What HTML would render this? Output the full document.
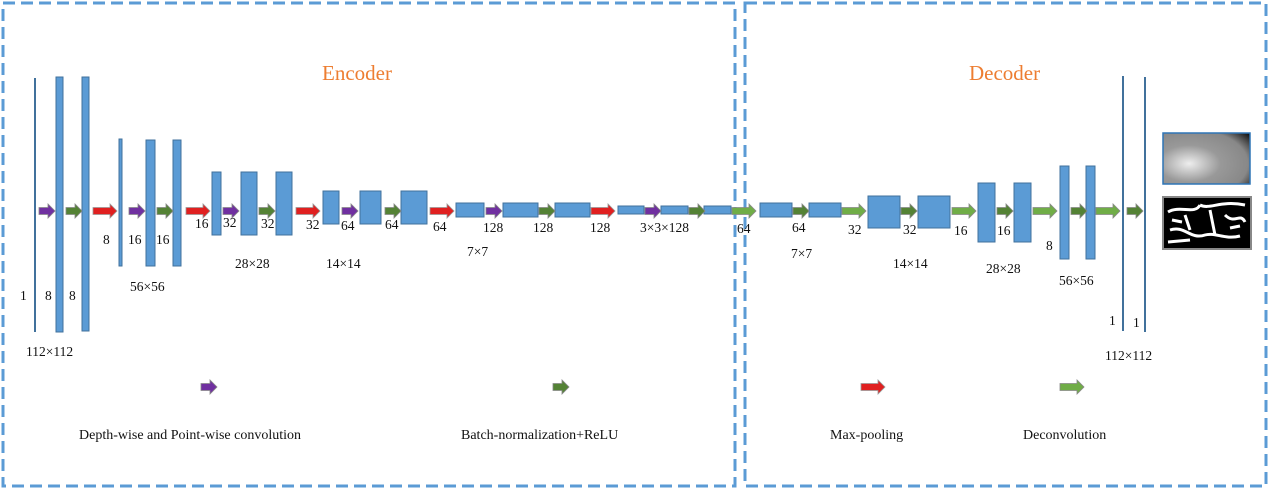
<!DOCTYPE html>
<html><head><meta charset="utf-8"><style>body{margin:0;background:#fff}svg{display:block}text{font-family:"Liberation Serif",serif;font-size:13.5px;fill:#111}</style></head><body>
<svg width="1270" height="489" viewBox="0 0 1270 489">
<defs>
<g id="ar"><path d="M0,-3.5 H9 V-7 L16,0 L9,7 V3.5 H0 Z" stroke-width="0.8"/></g>
<g id="al"><path d="M0,-3.5 H17 V-7 L24,0 L17,7 V3.5 H0 Z" stroke-width="0.8"/></g>
<radialGradient id="gb" cx="0.3" cy="0.6" r="0.9"><stop offset="0" stop-color="#eee"/><stop offset="0.4" stop-color="#999"/><stop offset="0.75" stop-color="#888"/><stop offset="1" stop-color="#111"/></radialGradient>
</defs>
<g fill="none" stroke="#5b9bd5" stroke-width="3" stroke-dasharray="12,6">
<rect x="3" y="3" width="732" height="483"/>
<rect x="745" y="3" width="521" height="483"/>
</g>
<text x="322" y="80" style="font-size:21px;fill:#ed7d31">Encoder</text>
<text x="969" y="80" style="font-size:21px;fill:#ed7d31">Decoder</text>
<g fill="#5b9bd5" stroke="#41719c" stroke-width="1">
<rect x="56" y="77" width="7" height="255"/><rect x="82" y="77" width="7" height="254"/>
<rect x="119" y="139" width="3" height="127"/>
<rect x="146" y="140" width="9" height="126"/><rect x="173" y="140" width="8" height="126"/>
<rect x="212" y="172" width="9" height="63"/><rect x="241" y="172" width="16" height="63"/><rect x="276" y="172" width="16" height="63"/>
<rect x="323" y="191" width="16" height="33"/><rect x="360" y="191" width="21" height="33"/><rect x="401" y="191" width="26" height="33"/>
<rect x="456" y="203" width="28" height="14"/><rect x="503" y="203" width="35" height="14"/><rect x="555" y="203" width="35" height="14"/>
<rect x="618" y="206" width="26" height="8"/><rect x="661" y="206" width="27" height="8"/><rect x="704" y="206" width="27" height="8"/>
<rect x="760" y="203" width="32" height="14"/><rect x="809" y="203" width="32" height="14"/>
<rect x="868" y="196" width="32" height="32"/><rect x="918" y="196" width="32" height="32"/>
<rect x="978" y="183" width="17" height="59"/><rect x="1014" y="183" width="17" height="59"/>
<rect x="1060" y="166" width="9" height="93"/><rect x="1086" y="166" width="9" height="93"/>
</g>
<g stroke="#41719c" stroke-width="2">
<line x1="35" y1="78" x2="35" y2="332"/><line x1="1123" y1="76" x2="1123" y2="331"/><line x1="1145" y1="77" x2="1145" y2="332"/>
</g>
<g fill="#7030a0" stroke="#888">
<use href="#ar" x="39" y="211"/><use href="#ar" x="129" y="211"/><use href="#ar" x="223" y="211"/><use href="#ar" x="342" y="211"/><use href="#ar" x="486" y="211"/><use href="#ar" x="645" y="211"/><use href="#ar" x="201" y="387"/>
</g>
<g fill="#548235" stroke="#888">
<use href="#ar" x="66" y="211"/><use href="#ar" x="157" y="211"/><use href="#ar" x="259" y="211"/><use href="#ar" x="385" y="211"/><use href="#ar" x="539" y="211"/><use href="#ar" x="689" y="211"/><use href="#ar" x="793" y="211"/><use href="#ar" x="901" y="211"/><use href="#ar" x="997" y="211"/><use href="#ar" x="1071" y="211"/><use href="#ar" x="1127" y="211"/><use href="#ar" x="553" y="387"/>
</g>
<g fill="#e02020" stroke="#999">
<use href="#al" x="93" y="211"/><use href="#al" x="186" y="211"/><use href="#al" x="296" y="211"/><use href="#al" x="430" y="211"/><use href="#al" x="591" y="211"/><use href="#al" x="861" y="387"/>
</g>
<g fill="#70ad47" stroke="#888">
<use href="#al" x="732" y="211"/><use href="#al" x="842" y="211"/><use href="#al" x="952" y="211"/><use href="#al" x="1033" y="211"/><use href="#al" x="1096" y="211"/><use href="#al" x="1060" y="387"/>
</g>
<text x="20" y="300">1</text><text x="45" y="300">8</text><text x="69" y="300">8</text>
<text x="26" y="356">112×112</text>
<text x="103" y="244">8</text><text x="128" y="244">16</text><text x="156" y="244">16</text>
<text x="130" y="291">56×56</text>
<text x="195" y="228">16</text><text x="223" y="227">32</text><text x="261" y="228">32</text>
<text x="235" y="268">28×28</text>
<text x="306" y="229">32</text><text x="341" y="230">64</text><text x="385" y="229">64</text><text x="433" y="231">64</text>
<text x="326" y="268">14×14</text>
<text x="483" y="232">128</text><text x="533" y="232">128</text><text x="590" y="232">128</text>
<text x="640" y="232">3×3×128</text>
<text x="467" y="256">7×7</text>
<text x="737" y="233">64</text><text x="792" y="232">64</text><text x="848" y="234">32</text>
<text x="791" y="258">7×7</text>
<text x="903" y="234">32</text><text x="954" y="235">16</text><text x="997" y="235">16</text><text x="1046" y="250">8</text>
<text x="893" y="268">14×14</text><text x="986" y="273">28×28</text><text x="1059" y="285">56×56</text>
<text x="1109" y="325">1</text><text x="1133" y="327">1</text>
<text x="1105" y="360">112×112</text>
<rect x="1163" y="133" width="87" height="51" fill="url(#gb)" stroke="#2e75b6" stroke-width="1.5"/>
<rect x="1163" y="197" width="88" height="52" fill="#000" stroke="#888" stroke-width="2"/>
<g stroke="#fff" stroke-width="3" fill="none">
<path d="M1168,212 C1180,205 1195,215 1200,205 M1170,230 C1185,225 1190,240 1205,235 C1215,232 1225,240 1240,236 M1185,215 L1190,230 M1200,205 C1210,210 1220,200 1245,205 M1210,210 L1215,235 M1225,215 C1235,225 1240,212 1245,222 M1168,242 L1190,240 M1172,220 L1182,222 M1230,228 L1240,226"/>
</g>
<text x="79" y="439" style="font-size:14px">Depth-wise and Point-wise convolution</text>
<text x="461" y="439" style="font-size:14px">Batch-normalization+ReLU</text>
<text x="830" y="439" style="font-size:14px">Max-pooling</text>
<text x="1023" y="439" style="font-size:14px">Deconvolution</text>
</svg>
</body></html>
